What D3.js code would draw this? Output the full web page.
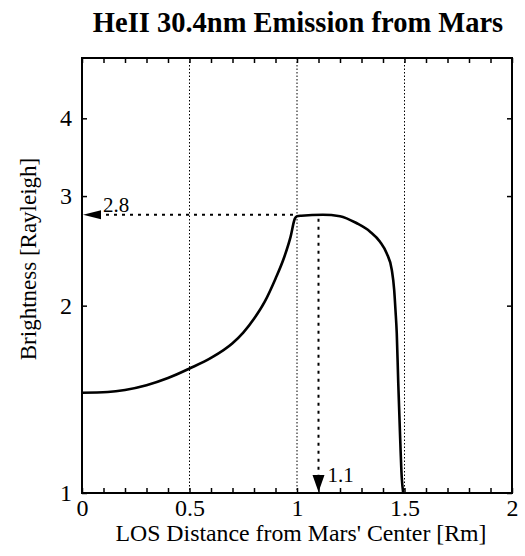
<!DOCTYPE html>
<html>
<head>
<meta charset="utf-8">
<script src="https://cdn.jsdelivr.net/npm/d3@7/dist/d3.min.js"></script>
<style>
  body { margin: 0; background: #fff; }
  text { font-family: "Liberation Serif", "Times New Roman", serif; fill: #000; }
</style>
</head>
<body>
<svg id="chart" width="525" height="556"></svg>
<script>
//
// Data
//

// LOS distance from Mars' center [Rm]
var distance = [0, 0.12, 0.2, 0.3, 0.4, 0.5, 0.6, 0.7, 0.75, 0.8, 0.85, 0.9, 0.94, 0.97, 0.99, 1.0, 1.02, 1.12, 1.2, 1.278, 1.34, 1.386, 1.417, 1.441, 1.452, 1.458, 1.464, 1.471, 1.479, 1.487, 1.494]
// HeII 30.4nm brightness [Rayleigh]
var brightness = [1.449, 1.453, 1.464, 1.49, 1.53, 1.585, 1.648, 1.74, 1.81, 1.905, 2.03, 2.21, 2.39, 2.58, 2.76, 2.785, 2.79, 2.8, 2.785, 2.713, 2.63, 2.534, 2.428, 2.282, 2.12, 1.968, 1.806, 1.501, 1.247, 1.062, 1.0]

var xTickLabels = [0, 0.5, 1, 1.5, 2]
var xMinorTicks = [0, 0.1, 0.2, 0.3, 0.4, 0.5, 0.6, 0.7, 0.8, 0.9, 1, 1.1, 1.2, 1.3, 1.4, 1.5, 1.6, 1.7, 1.8, 1.9, 2]
var yTickLabels = [1, 2, 3, 4]
var gridLines = [0.5, 1, 1.5]

// annotation: peak brightness and where it sits
var peakValue = 2.8
var peakLabel = '2.8'
var kneeDistance = 1.0
var peakDistance = 1.1
var peakDistLabel = '1.1'

//
// Setup
//

var svg = d3.select('#chart')
var plotLeft = 82, plotRight = 512, plotTop = 58, plotBottom = 493

var x = d3.scaleLinear().domain([0, 2]).range([plotLeft, plotRight])
var y = d3.scaleLog().domain([1, 5]).range([plotBottom, plotTop])

svg.append('rect').attr('width', 525).attr('height', 556).attr('fill', '#fff')

// title
svg.append('text')
  .attr('x', 298).attr('y', 32)
  .attr('text-anchor', 'middle')
  .style('font-size', '28.5px').style('font-weight', 'bold')
  .text('HeII 30.4nm Emission from Mars')

// dotted grid
svg.append('g').selectAll('line').data(gridLines).enter().append('line')
  .attr('x1', d => x(d)).attr('x2', d => x(d))
  .attr('y1', plotTop).attr('y2', plotBottom)
  .attr('stroke', '#000').attr('stroke-width', 1)
  .attr('stroke-dasharray', '1.5,2')

// minor ticks, bottom and top, pointing in
svg.append('g').attr('transform', `translate(0,${plotBottom})`)
  .call(d3.axisBottom(x).tickValues(xMinorTicks).tickSize(-5).tickFormat(''))
svg.append('g').attr('transform', `translate(0,${plotTop})`)
  .call(d3.axisTop(x).tickValues(xMinorTicks).tickSize(-5).tickFormat(''))

// bottom labels
svg.append('g').attr('class', 'xlab').attr('transform', `translate(0,${plotBottom})`)
  .call(d3.axisBottom(x).tickValues(xTickLabels).tickSize(0).tickPadding(6).tickFormat(d3.format('')))

// y ticks left and right
svg.append('g').attr('class', 'ylab').attr('transform', `translate(${plotLeft},0)`)
  .call(d3.axisLeft(y).tickValues(yTickLabels).tickSize(-5).tickPadding(10).tickFormat(d3.format('d')))
svg.append('g').attr('transform', `translate(${plotRight},0)`)
  .call(d3.axisRight(y).tickValues(yTickLabels).tickSize(-5).tickFormat(''))

svg.selectAll('.domain').remove()
svg.selectAll('.tick line').attr('stroke', '#000').attr('stroke-width', 1.5)
svg.selectAll('.xlab text, .ylab text')
  .style('font-family', '"Liberation Serif", "Times New Roman", serif')
  .style('font-size', '24px')

// frame
svg.append('rect')
  .attr('x', plotLeft).attr('y', plotTop)
  .attr('width', plotRight - plotLeft).attr('height', plotBottom - plotTop)
  .attr('fill', 'none').attr('stroke', '#000').attr('stroke-width', 2)

// curve
var line = d3.line()
  .x(d => x(d[0]))
  .y(d => y(d[1]))
  .curve(d3.curveMonotoneX)

svg.append('path')
  .datum(d3.zip(distance, brightness))
  .attr('d', line)
  .attr('fill', 'none')
  .attr('stroke', '#000')
  .attr('stroke-width', 2.6)
  .attr('stroke-linejoin', 'round')

// annotation: horizontal dashed line to the axis
svg.append('line')
  .attr('x1', x(0) + 16).attr('x2', x(kneeDistance))
  .attr('y1', y(peakValue)).attr('y2', y(peakValue))
  .attr('stroke', '#000').attr('stroke-width', 2).attr('stroke-dasharray', '3,5')
svg.append('path')
  .attr('d', `M${x(0) + 1},${y(peakValue)}L${x(0) + 19},${y(peakValue) - 4.5}L${x(0) + 19},${y(peakValue) + 4.5}Z`)
  .attr('fill', '#000')
svg.append('text')
  .attr('x', x(0) + 21).attr('y', y(peakValue) - 3)
  .style('font-size', '21px')
  .text(peakLabel)

// annotation: vertical dashed line down to the axis
svg.append('line')
  .attr('x1', x(peakDistance)).attr('x2', x(peakDistance))
  .attr('y1', y(peakValue) + 4).attr('y2', y(1) - 14)
  .attr('stroke', '#000').attr('stroke-width', 2).attr('stroke-dasharray', '3,5')
svg.append('path')
  .attr('d', `M${x(peakDistance)},${y(1) - 1}L${x(peakDistance) - 6},${y(1) - 18}L${x(peakDistance) + 6},${y(1) - 18}Z`)
  .attr('fill', '#000')
svg.append('text')
  .attr('x', x(peakDistance) + 9).attr('y', y(1) - 11)
  .style('font-size', '21px')
  .text(peakDistLabel)

// axis titles
svg.append('text')
  .attr('transform', 'translate(36,259) rotate(-90)')
  .attr('text-anchor', 'middle')
  .style('font-size', '23px')
  .text('Brightness [Rayleigh]')

svg.append('text')
  .attr('x', 301).attr('y', 541)
  .attr('text-anchor', 'middle')
  .style('font-size', '23.8px')
  .text("LOS Distance from Mars' Center [Rm]")
</script>
</body>
</html>
